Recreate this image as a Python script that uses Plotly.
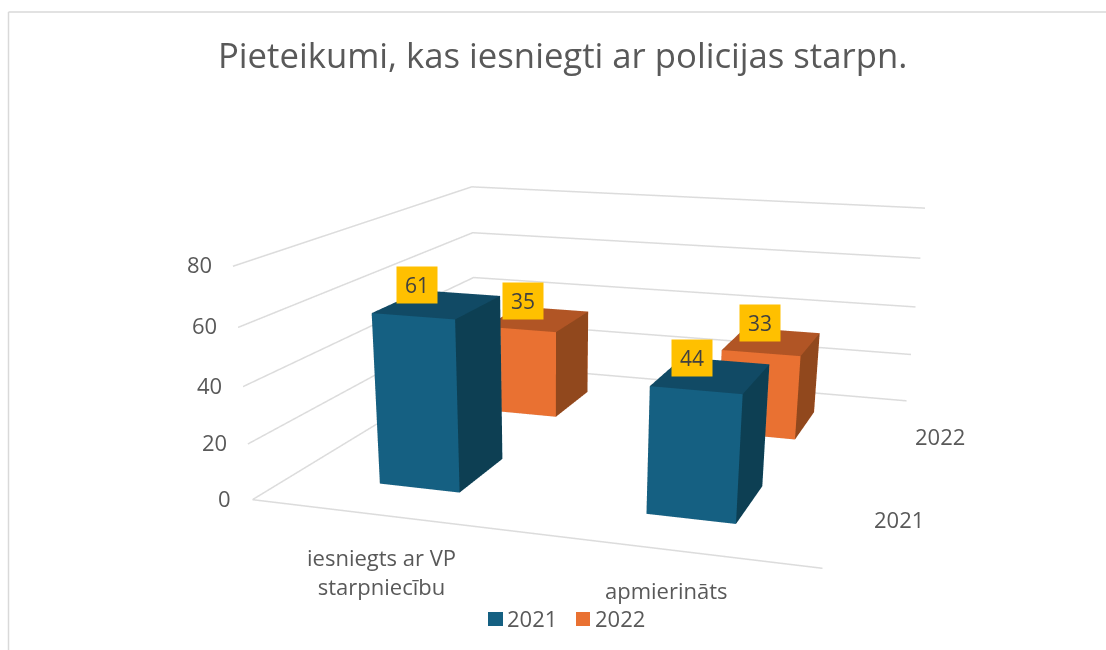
import plotly.graph_objects as go

categories = ["iesniegts ar VP<br>starpniecību", "apmierināts"]
series_names = ["2021", "2022"]
values_2021 = [61, 44]
values_2022 = [35, 33]
z_ticks = [0, 20, 40, 60, 80]
title_text = "Pieteikumi, kas iesniegti ar policijas starpn."

# The figure is taller than the window so that the fixed 45 degree lens of the
# 3D scene gives the same flat perspective as the reference; only the top shows.
FW, FH = 1106, 1243
eye = dict(x=0.7077, y=-2.3410, z=0.5609)
center = dict(x=-0.0037, y=-0.2987, z=-0.3776)
up = dict(x=-0.0038, y=-0.0106, z=1)
aspect = dict(x=0.8651, y=0.9037, z=0.3496)
half_w, half_d = 0.1556, 0.2030

BLUE = ("#156082", "#114A65", "#0D3F53")
ORANGE = ("#E97132", "#B15525", "#91481D")
GRID = "#DCDCDC"
FRAME = "#D9D9D9"
TEXT = "#595959"
FONT = "Open Sans"


def box(cat_idx, ser_idx, value, cols):
    x0, x1 = cat_idx + .5 - half_w, cat_idx + .5 + half_w
    y0, y1 = ser_idx + .5 - half_d, ser_idx + .5 + half_d
    xs = [x0, x1, x1, x0, x0, x1, x1, x0]
    ys = [y0, y0, y1, y1, y0, y0, y1, y1]
    zs = [0, 0, 0, 0, value, value, value, value]
    i = [0, 0, 1, 1, 4, 4, 3, 3, 0, 0, 2, 2]
    j = [1, 5, 2, 6, 5, 6, 2, 6, 3, 7, 1, 0]
    k = [5, 4, 6, 5, 6, 7, 6, 7, 7, 4, 0, 3]
    front, top, side = cols
    fc = [front, front, side, side, top, top, front, front, side, side, top, top]
    return go.Mesh3d(x=xs, y=ys, z=zs, i=i, j=j, k=k, facecolor=fc, flatshading=True,
                     hoverinfo="skip", showscale=False,
                     lighting=dict(ambient=1, diffuse=0, specular=0, roughness=1, fresnel=0))


fig = go.Figure()
gx, gy, gz = [], [], []
for t in z_ticks:
    gx += [0, 0, 2, None]
    gy += [0, 2, 2, None]
    gz += [t, t, t, None]
gx += [0, 2, None]
gy += [0, 0, None]
gz += [0, 0, None]
fig.add_trace(go.Scatter3d(x=gx, y=gy, z=gz, mode="lines", line=dict(color=GRID, width=3),
                           hoverinfo="skip", showlegend=False))
for s, (vals, cols) in enumerate(((values_2021, BLUE), (values_2022, ORANGE))):
    for c, v in enumerate(vals):
        fig.add_trace(box(c, s, v, cols))

label_font = dict(size=22, color=TEXT, family=FONT)
ann3 = []
for t in z_ticks:
    ann3.append(dict(x=0, y=0, z=t, text=str(t), showarrow=False, xanchor="right",
                     xshift=-19, yshift=2, font=label_font))
for c, name in enumerate(categories):
    ann3.append(dict(x=c + .5, y=0, z=0, text=name, showarrow=False, yanchor="top",
                     yshift=[-25, -23][c], xshift=[-1, 0][c], font=label_font))
for s, name in enumerate(series_names):
    ann3.append(dict(x=2, y=s + .5, z=0, text=name, showarrow=False, xanchor="left",
                     xshift=23, yshift=[-4, -3][s], font=label_font))
shifts = [[(-21, 19), (-19, 17)], [(-15, 18), (-12, 18)]]
for s, vals in enumerate((values_2021, values_2022)):
    for c, v in enumerate(vals):
        ann3.append(dict(x=c + .5, y=s + .5, z=v, text=str(v), showarrow=False,
                         xshift=shifts[s][c][0], yshift=shifts[s][c][1], width=38, height=34,
                         bgcolor="#FFC000", font=dict(size=21, color="#404040", family=FONT)))

hide = dict(visible=False, showgrid=False, showbackground=False, showticklabels=False,
            showspikes=False, zeroline=False)


def X(px):
    return px / FW


def Y(py):
    return 1 - py / FH


shapes = [
    dict(type="line", xref="paper", yref="paper", x0=X(8.5), x1=X(1120), y0=Y(12), y1=Y(12),
         line=dict(color=FRAME, width=1.5)),
    dict(type="line", xref="paper", yref="paper", x0=X(8.5), x1=X(8.5), y0=Y(12), y1=Y(660),
         line=dict(color=FRAME, width=1.5)),
    dict(type="rect", xref="paper", yref="paper", x0=X(488), x1=X(503), y0=Y(612), y1=Y(626),
         fillcolor=BLUE[0], line=dict(width=0)),
    dict(type="rect", xref="paper", yref="paper", x0=X(576), x1=X(590), y0=Y(612), y1=Y(626),
         fillcolor=ORANGE[0], line=dict(width=0)),
]
anns = [
    dict(x=X(562.5), y=Y(55), xref="paper", yref="paper", text=title_text, showarrow=False,
         yanchor="middle", font=dict(size=34.7, color=TEXT, family=FONT)),
    dict(x=X(507), y=Y(618), xref="paper", yref="paper", text=series_names[0], showarrow=False,
         xanchor="left", yanchor="middle", xshift=-2, font=label_font),
    dict(x=X(595), y=Y(618), xref="paper", yref="paper", text=series_names[1], showarrow=False,
         xanchor="left", yanchor="middle", xshift=-2, font=label_font),
]
fig.update_layout(
    width=FW, height=FH, margin=dict(l=0, r=0, t=0, b=0), paper_bgcolor="white", showlegend=False,
    scene=dict(domain=dict(x=[0, 1], y=[0, 1]), aspectmode="manual", aspectratio=aspect,
               camera=dict(eye=eye, center=center, up=up, projection=dict(type="perspective")),
               xaxis=dict(range=[0, 2], **hide), yaxis=dict(range=[0, 2], **hide),
               zaxis=dict(range=[0, 80], **hide), annotations=ann3),
    shapes=shapes, annotations=anns)
fig.write_html("out.html", config=dict(displayModeBar=False),
               post_script="document.body.style.margin='0';document.documentElement.style.overflow='hidden';")
